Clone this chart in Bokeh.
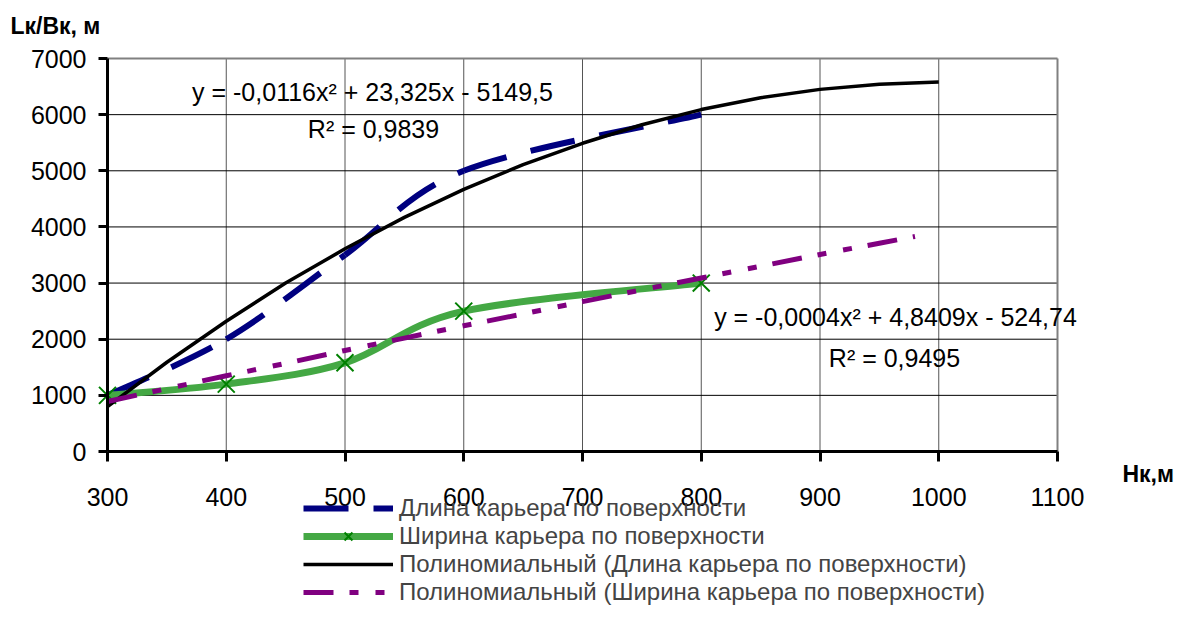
from bokeh.plotting import figure
from bokeh.models import Range1d, FixedTicker, Legend, LegendItem, Label, LinearAxis
from bokeh.embed import file_html
from bokeh.resources import INLINE

# ---- data ----
H = [300, 400, 500, 600, 800]
length_m = [1000, 2000, 3500, 5000, 6000]
width_m = [1000, 1200, 1580, 2500, 3000]

trend_len_H = [300, 350, 400, 450, 500, 550, 600, 650, 700, 750, 800, 850, 900, 950, 1000]
trend_len = [800, 1590, 2320, 3000, 3610, 4170, 4670, 5110, 5490, 5820, 6090, 6300, 6450, 6540, 6580]

trend_wid_H = [300, 350, 400, 450, 500, 550, 600, 650, 700, 750, 800, 850, 900, 950, 980]
trend_wid = [890, 1120, 1350, 1570, 1800, 2020, 2240, 2450, 2670, 2880, 3090, 3300, 3510, 3710, 3830]

x_ticks = [300, 400, 500, 600, 700, 800, 900, 1000, 1100]
y_ticks = [0, 1000, 2000, 3000, 4000, 5000, 6000, 7000]

legend_labels = [
    "Длина карьера по поверхности",
    "Ширина карьера по поверхности",
    "Полиномиальный (Длина карьера по поверхности)",
    "Полиномиальный (Ширина карьера по поверхности)",
]
y_title = "Lк/Вк, м"
x_title = "Нк,м"
eq_len = "y = -0,0116x² + 23,325x - 5149,5"
r2_len = "R² = 0,9839"
eq_wid = "y = -0,0004x² + 4,8409x - 524,74"
r2_wid = "R² = 0,9495"

FONT = "Liberation Sans"

# ---- layout (canvas pixels) ----
W, HGT = 1176, 605
FL, FR, FT, FB = 107, 1057, 58, 451   # plot-area box inside the canvas

xpp = (x_ticks[-1] - x_ticks[0]) / (FR - FL)
ypp = (y_ticks[-1] - y_ticks[0]) / (FB - FT)
x_start = x_ticks[0] - FL * xpp
x_end = x_ticks[-1] + (W - FR) * xpp
y_end = y_ticks[-1] + FT * ypp
y_start = y_ticks[0] - (HGT - FB) * ypp


def cx(px):
    return x_start + px * xpp


def cy(py):
    return y_end - py * ypp


def smooth(xs, ys):
    """Bezier segments (Excel-like smoothed line) through the data points."""
    n = len(xs)
    out = {k: [] for k in ("x0", "y0", "x1", "y1", "cx0", "cy0", "cx1", "cy1")}
    for i in range(n - 1):
        im, i2 = max(i - 1, 0), min(i + 2, n - 1)
        out["x0"].append(xs[i]); out["y0"].append(ys[i])
        out["x1"].append(xs[i + 1]); out["y1"].append(ys[i + 1])
        out["cx0"].append(xs[i] + (xs[i + 1] - xs[im]) / 6)
        out["cy0"].append(ys[i] + (ys[i + 1] - ys[im]) / 6)
        out["cx1"].append(xs[i + 1] - (xs[i2] - xs[i]) / 6)
        out["cy1"].append(ys[i + 1] - (ys[i2] - ys[i]) / 6)
    return out


p = figure(width=W, height=HGT,
           x_range=Range1d(x_start, x_end), y_range=Range1d(y_start, y_end),
           x_axis_type=None, y_axis_type=None,
           output_backend="svg", toolbar_location=None,
           min_border_left=0, min_border_right=0,
           min_border_top=0, min_border_bottom=0)
p.background_fill_color = "white"
p.border_fill_color = "white"
p.outline_line_color = None
p.xgrid.visible = False
p.ygrid.visible = False

# grid lines (from tick lists)
p.segment(x0=x_ticks[1:-1], y0=[y_ticks[0]] * (len(x_ticks) - 2),
          x1=x_ticks[1:-1], y1=[y_ticks[-1]] * (len(x_ticks) - 2),
          line_color="#555555", line_width=1)
p.segment(x0=[x_ticks[0]] * (len(y_ticks) - 2), y0=y_ticks[1:-1],
          x1=[x_ticks[-1]] * (len(y_ticks) - 2), y1=y_ticks[1:-1],
          line_color="black", line_width=1)
# plot-area border (top / right, grey)
p.segment(x0=[x_ticks[0], x_ticks[-1]], y0=[y_ticks[-1], y_ticks[0]],
          x1=[x_ticks[-1], x_ticks[-1]], y1=[y_ticks[-1], y_ticks[-1]],
          line_color="#808080", line_width=2)

xaxis = LinearAxis(fixed_location=y_ticks[0], bounds=(x_ticks[0], x_ticks[-1]),
                   ticker=FixedTicker(ticks=x_ticks))
yaxis = LinearAxis(fixed_location=x_ticks[0], bounds=(y_ticks[0], y_ticks[-1]),
                   ticker=FixedTicker(ticks=y_ticks))
for ax, tout, stand in ((xaxis, 10, 26), (yaxis, 9, 12)):
    ax.axis_line_width = 3
    ax.axis_line_color = "black"
    ax.major_tick_line_width = 3
    ax.major_tick_line_color = "black"
    ax.major_tick_out = tout
    ax.major_tick_in = 0
    ax.minor_tick_line_color = None
    ax.major_label_text_font = FONT
    ax.major_label_text_font_size = "25px"
    ax.major_label_text_color = "black"
    ax.major_label_standoff = stand
p.add_layout(xaxis, "below")
p.add_layout(yaxis, "left")

# data series (smoothed)
b = smooth(H, length_m)
r_blue = p.bezier(x0=b["x0"], y0=b["y0"], x1=b["x1"], y1=b["y1"],
                  cx0=b["cx0"], cy0=b["cy0"], cx1=b["cx1"], cy1=b["cy1"],
                  line_color="#000080", line_width=6, line_dash="45 25")
g = smooth(H, width_m)
r_green = p.bezier(x0=g["x0"], y0=g["y0"], x1=g["x1"], y1=g["y1"],
                   cx0=g["cx0"], cy0=g["cy0"], cx1=g["cx1"], cy1=g["cy1"],
                   line_color="#44a844", line_width=7)
r_green_x = p.scatter(H, width_m, marker="x", size=24,
                      line_color="#008000", line_width=2)

# trend lines
r_black = p.line(trend_len_H, trend_len, line_color="black", line_width=3.5)
r_purple = p.line(trend_wid_H, trend_wid, line_color="#800080", line_width=5,
                  line_dash="30 16 9 17 9 16")

# equations
for txt, px, py in ((eq_len, 372, 91), (r2_len, 373, 128),
                    (eq_wid, 895, 316), (r2_wid, 894, 357)):
    p.add_layout(Label(x=cx(px), y=cy(py), text=txt, text_align="center",
                       text_baseline="middle", text_font=FONT,
                       text_font_size="25px", text_color="black"))

# axis titles
p.add_layout(Label(x=cx(10), y=cy(25), text=y_title, text_align="left",
                   text_baseline="middle", text_font=FONT, text_font_style="bold",
                   text_font_size="23px", text_color="black"))
p.add_layout(Label(x=cx(1122), y=cy(473), text=x_title, text_align="left",
                   text_baseline="middle", text_font=FONT, text_font_style="bold",
                   text_font_size="23px", text_color="black"))

# legend: one row per Legend so that the rows sit at exact positions
rows = [([r_blue], 508), ([r_green, r_green_x], 536),
        ([r_black], 564), ([r_purple], 592)]
ROW_H = 28
for label, (rends, yc) in zip(legend_labels, rows):
    lg = Legend(items=[LegendItem(label=label, renderers=rends)],
                location=(303, int(round(HGT - (yc + ROW_H / 2)))),
                glyph_width=90, glyph_height=ROW_H, label_height=ROW_H,
                spacing=0, padding=0, margin=0, border_line_color=None,
                background_fill_alpha=0, label_text_font=FONT,
                label_text_font_size="24px", label_standoff=6)
    p.add_layout(lg, "center")

open("out.html", "w").write(file_html(p, INLINE))
